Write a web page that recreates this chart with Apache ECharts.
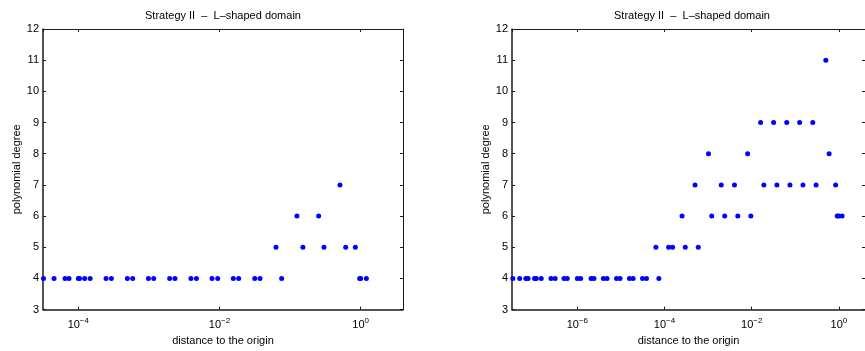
<!DOCTYPE html>
<html>
<head>
<meta charset="utf-8">
<script src="https://cdn.jsdelivr.net/npm/echarts@6/dist/echarts.min.js"></script>
<style>html,body{margin:0;padding:0;background:#fff;}#c{width:865px;height:351px;}</style>
</head>
<body>
<div id="c"></div>
<script>
const titleText = 'Strategy II  \u2013  L\u2013shaped domain';
const xName = 'distance to the origin';
const yName = 'polynomial degree';
const yTicks = [3, 4, 5, 6, 7, 8, 9, 10, 11, 12];

// Left panel: distance to origin per polynomial degree
const leftDeg4 = [3.21e-5, 4.53e-5, 6.49e-5, 7.38e-5, 1.00e-4, 1.04e-4, 1.23e-4, 1.47e-4, 2.47e-4, 2.94e-4,
  4.95e-4, 5.90e-4, 9.84e-4, 1.17e-3, 1.97e-3, 2.34e-3, 3.94e-3, 4.71e-3, 7.83e-3, 9.44e-3,
  1.57e-2, 1.87e-2, 3.16e-2, 3.75e-2, 7.60e-2, 0.968, 1.0, 1.205];
const leftDeg5 = [0.0632, 0.152, 0.302, 0.614, 0.841];
const leftDeg6 = [0.125, 0.254];
const leftDeg7 = [0.509];

// Right panel
const rightDeg4 = [3.30e-8, 4.74e-8, 6.56e-8, 7.40e-8, 1.04e-7, 1.14e-7, 1.48e-7, 2.48e-7, 3.09e-7, 4.93e-7,
  5.85e-7, 1.00e-6, 1.19e-6, 2.06e-6, 2.40e-6, 3.95e-6, 4.79e-6, 7.91e-6, 9.53e-6, 1.57e-5,
  1.90e-5, 3.13e-5, 3.85e-5, 7.41e-5];
const rightDeg5 = [6.34e-5, 1.24e-4, 1.53e-4, 2.99e-4, 5.94e-4];
const rightDeg6 = [2.52e-4, 1.21e-3, 2.40e-3, 4.80e-3, 9.55e-3, 0.916, 1.0, 1.186];
const rightDeg7 = [5.01e-4, 2.00e-3, 4.03e-3, 1.90e-2, 3.79e-2, 7.55e-2, 0.150, 0.300, 0.843];
const rightDeg8 = [1.02e-3, 8.05e-3, 0.597];
const rightDeg9 = [1.60e-2, 3.18e-2, 6.37e-2, 0.126, 0.252];
const rightDeg11 = [0.502];

const leftRange = [3.16e-5, 3.98];
const rightRange = [3.16e-8, 3.98];

const FONT = 'Liberation Sans, Arial, Helvetica, sans-serif';
const LINE = '#1a1a1a';

function pts(arr, deg) { return arr.map(d => [d, deg]); }

function expLabel(v) {
  const e = Math.log10(v);
  const r = Math.round(e);
  if (Math.abs(e - r) > 0.01) return '';
  return '10{s|' + (r < 0 ? '\u2212' + (-r) : String(r)) + '}';
}

function xAxes(gi, range) {
  const common = {
    type: 'log', logBase: 100, gridIndex: gi, min: range[0], max: range[1],
    splitLine: {show: false}, minorTick: {show: false}
  };
  return [
    Object.assign({}, common, {
      position: 'bottom',
      name: xName, nameLocation: 'middle', nameGap: 22,
      nameTextStyle: {fontFamily: FONT, fontSize: 11, color: '#000'},
      axisLine: {show: true, lineStyle: {color: LINE, width: 1.5}},
      axisTick: {show: true, inside: true, length: 3, lineStyle: {color: LINE, width: 1}},
      axisLabel: {
        show: true, margin: 7, fontFamily: FONT, fontSize: 11, color: '#000',
        showMinLabel: false, showMaxLabel: false,
        formatter: expLabel,
        rich: {s: {fontFamily: FONT, fontSize: 8, color: '#000', padding: [0, 0, 8, 0]}}
      }
    }),
    Object.assign({}, common, {
      position: 'top',
      axisLine: {show: true, lineStyle: {color: LINE, width: 1}},
      axisTick: {show: true, inside: true, length: 3, lineStyle: {color: LINE, width: 1}},
      axisLabel: {show: false}
    })
  ];
}

function yAxes(gi) {
  const common = {
    type: 'value', gridIndex: gi, min: yTicks[0], max: yTicks[yTicks.length - 1], interval: 1,
    splitLine: {show: false}
  };
  return [
    Object.assign({}, common, {
      position: 'left',
      name: yName, nameLocation: 'middle', nameGap: 21, nameRotate: 90,
      nameTextStyle: {fontFamily: FONT, fontSize: 11, color: '#000'},
      axisLine: {show: true, lineStyle: {color: LINE, width: 1.5}},
      axisTick: {show: true, inside: true, length: 3, lineStyle: {color: LINE, width: 1}},
      axisLabel: {margin: 4, fontFamily: FONT, fontSize: 11, color: '#000'}
    }),
    Object.assign({}, common, {
      position: 'right',
      axisLine: {show: true, lineStyle: {color: LINE, width: 1}},
      axisTick: {show: true, inside: true, length: 3, lineStyle: {color: LINE, width: 1}},
      axisLabel: {show: false}
    })
  ];
}

function scatter(xi, yi, data) {
  return {
    type: 'scatter', xAxisIndex: xi, yAxisIndex: yi, data: data,
    symbol: 'circle', symbolSize: 5,
    itemStyle: {color: '#0000ff', opacity: 1}, silent: true, animation: false
  };
}

const leftSets = [[leftDeg4, 4], [leftDeg5, 5], [leftDeg6, 6], [leftDeg7, 7]];
const rightSets = [[rightDeg4, 4], [rightDeg5, 5], [rightDeg6, 6], [rightDeg7, 7], [rightDeg8, 8], [rightDeg9, 9], [rightDeg11, 11]];

const series = [];
leftSets.forEach(s => series.push(scatter(0, 0, pts(s[0], s[1]))));
rightSets.forEach(s => series.push(scatter(2, 2, pts(s[0], s[1]))));

const chart = echarts.init(document.getElementById('c'), null, {renderer: 'canvas'});
chart.setOption({
  animation: false,
  backgroundColor: '#fff',
  title: [
    {text: titleText, left: 223, top: 10, textAlign: 'center', padding: 0,
     textStyle: {fontFamily: FONT, fontSize: 11, fontWeight: 'normal', color: '#000'}},
    {text: titleText, left: 692, top: 10, textAlign: 'center', padding: 0,
     textStyle: {fontFamily: FONT, fontSize: 11, fontWeight: 'normal', color: '#000'}}
  ],
  grid: [
    {left: 43, top: 29, width: 360, height: 283, containLabel: false},
    {left: 512, top: 29, width: 360, height: 283, containLabel: false}
  ],
  xAxis: xAxes(0, leftRange).concat(xAxes(1, rightRange)),
  yAxis: yAxes(0).concat(yAxes(1)),
  series: series
});
</script>
</body>
</html>
